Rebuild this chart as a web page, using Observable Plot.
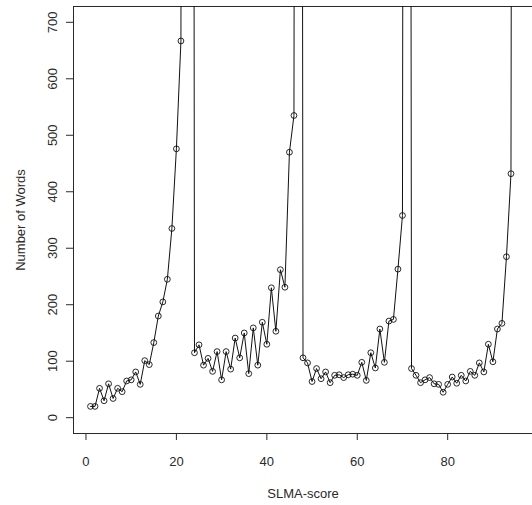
<!DOCTYPE html>
<html>
<head>
<meta charset="utf-8">
<script src="https://cdn.jsdelivr.net/npm/d3@7"></script>
<script src="https://cdn.jsdelivr.net/npm/@observablehq/plot@0.6"></script>
<style>
  html, body { margin: 0; padding: 0; background: #fff; }
</style>
</head>
<body>
<div id="chart"></div>
<script>
// SLMA-score (x) and Number of Words (y); off-chart peaks are estimates (clipped at the top)
const scores = [
  1, 2, 3, 4, 5, 6, 7, 8, 9, 10, 11, 12, 13, 14, 15, 16, 17, 18, 19, 20,
  21, 22, 23, 24, 25, 26, 27, 28, 29, 30, 31, 32, 33, 34, 35, 36, 37, 38, 39, 40,
  41, 42, 43, 44, 45, 46, 47, 48, 49, 50, 51, 52, 53, 54, 55, 56, 57, 58, 59, 60,
  61, 62, 63, 64, 65, 66, 67, 68, 69, 70, 71, 72, 73, 74, 75, 76, 77, 78, 79, 80,
  81, 82, 83, 84, 85, 86, 87, 88, 89, 90, 91, 92, 93, 94, 95
];
const words = [
  20, 20, 52, 30, 60, 34, 52, 46, 65, 67, 81, 59, 101, 94, 133, 180, 205, 245, 335, 476,
  667, 6200, 7400, 115, 129, 93, 105, 82, 117, 67, 117, 86, 141, 106, 150, 78, 159, 93, 169, 130,
  230, 153, 262, 231, 470, 535, 6800, 106, 97, 64, 87, 69, 81, 62, 75, 76, 71, 76, 77, 75,
  98, 66, 115, 88, 157, 98, 171, 174, 263, 358, 6500, 87, 75, 62, 67, 71, 60, 59, 45, 59,
  72, 61, 75, 65, 82, 75, 97, 81, 130, 99, 157, 167, 285, 432, 5900
];
const xTicks = [0, 20, 40, 60, 80];
const yTicks = [0, 100, 200, 300, 400, 500, 600, 700];
const xTitle = "SLMA-score";
const yTitle = "Number of Words";

const data = scores.map((s, i) => ({score: s, words: words[i]}));

const ink = "#2a2a2a";
const chart = Plot.plot({
  width: 532,
  height: 505,
  marginLeft: 73,
  marginTop: 6,
  marginBottom: 72,
  marginRight: 0,
  style: {fontFamily: "'Liberation Sans', Arial, sans-serif", fontSize: "13px", color: ink, background: "#fff"},
  x: {domain: [-2.76, 98.76]},
  y: {domain: [-28, 728]},
  marks: [
    Plot.frame({stroke: ink}),
    Plot.axisX({ticks: xTicks, tickSize: 7, tickPadding: 16, label: null, fontSize: 13, stroke: ink, fill: ink}),
    Plot.axisY({ticks: yTicks, tickSize: 7, tickFormat: () => "", label: null, stroke: ink}),
    Plot.text(yTicks, {y: d => d, frameAnchor: "left", dx: -21, rotate: -90, textAnchor: "middle", lineAnchor: "middle", text: d => String(d), fill: ink}),
    Plot.text([xTitle], {frameAnchor: "bottom", dy: 60, lineAnchor: "middle", text: d => d, fill: ink}),
    Plot.text([yTitle], {frameAnchor: "left", dx: -53, rotate: -90, textAnchor: "middle", lineAnchor: "middle", text: d => d, fill: ink}),
    Plot.line(data, {x: "score", y: "words", stroke: "#111", strokeWidth: 1, clip: true}),
    Plot.dot(data, {x: "score", y: "words", r: 2.9, stroke: "#111", strokeWidth: 0.9, fill: "none", clip: true})
  ]
});
document.getElementById("chart").appendChild(chart);
</script>
</body>
</html>
